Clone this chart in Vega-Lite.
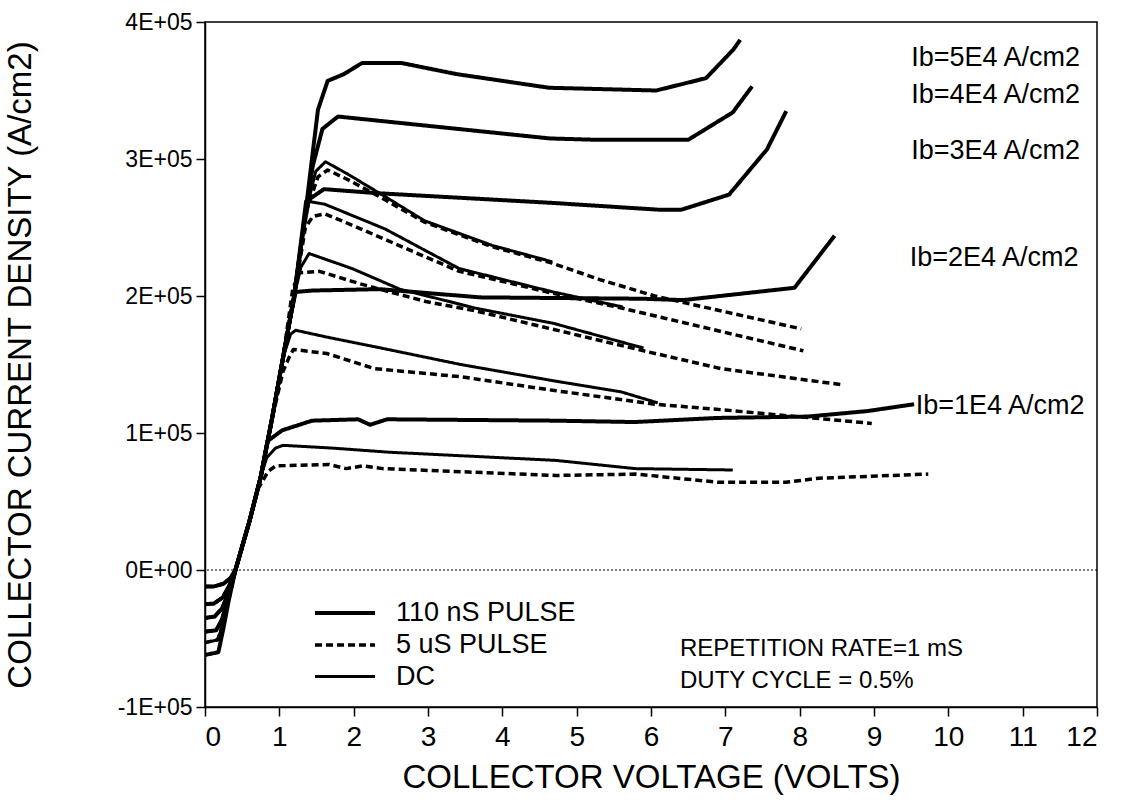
{
  "$schema": "https://vega.github.io/schema/vega-lite/v6.json",
  "width": 892,
  "height": 685,
  "autosize": "none",
  "padding": {"left": 205, "top": 22, "right": 36, "bottom": 100},
  "background": "white",
  "config": {
    "font": "Liberation Sans",
    "view": {"stroke": "black", "strokeWidth": 1.5},
    "axis": {"domainColor": "black", "domainWidth": 1.5, "tickColor": "black", "tickWidth": 1.5, "tickSize": 9, "labelColor": "black", "titleColor": "black", "grid": false, "labelFont": "Liberation Sans", "titleFont": "Liberation Sans", "titleFontWeight": "normal"}
  },
  "datasets": {
    "curves": [
      {"c": "T1", "p": "110 nS PULSE"}, {"c": "T2", "p": "110 nS PULSE"}, {"c": "T3", "p": "110 nS PULSE"}, {"c": "T4", "p": "110 nS PULSE"}, {"c": "T5", "p": "110 nS PULSE"},
      {"c": "S1", "p": "5 uS PULSE"}, {"c": "S2", "p": "5 uS PULSE"}, {"c": "S3", "p": "5 uS PULSE"}, {"c": "S4", "p": "5 uS PULSE"}, {"c": "S5", "p": "5 uS PULSE"},
      {"c": "D1", "p": "DC"}, {"c": "D2", "p": "DC"}, {"c": "D3", "p": "DC"}, {"c": "D4", "p": "DC"}, {"c": "D5", "p": "DC"}
    ],
    "pts": [
      {"c":"T5","v":0,"j":-62000},{"c":"T5","v":0.18,"j":-60000},{"c":"T5","v":0.25,"j":-42000},{"c":"T5","v":0.32,"j":-22000},{"c":"T5","v":0.41,"j":0},
      {"c":"T5","v":0.6,"j":36000},{"c":"T5","v":0.75,"j":68000},{"c":"T5","v":0.9,"j":110000},{"c":"T5","v":1.05,"j":155000},{"c":"T5","v":1.2,"j":200000},{"c":"T5","v":1.35,"j":260000},{"c":"T5","v":1.45,"j":305000},{"c":"T5","v":1.52,"j":336000},{"c":"T5","v":1.65,"j":357000},{"c":"T5","v":1.87,"j":362000},{"c":"T5","v":2.11,"j":370000},{"c":"T5","v":2.65,"j":370000},{"c":"T5","v":3.38,"j":362000},{"c":"T5","v":4.63,"j":352000},{"c":"T5","v":6.07,"j":350000},{"c":"T5","v":6.74,"j":359000},{"c":"T5","v":7.11,"j":380000},{"c":"T5","v":7.2,"j":387000},

      {"c":"T4","v":0,"j":-45000},{"c":"T4","v":0.15,"j":-44000},{"c":"T4","v":0.23,"j":-36000},{"c":"T4","v":0.31,"j":-20000},{"c":"T4","v":0.41,"j":0},
      {"c":"T4","v":0.6,"j":36000},{"c":"T4","v":0.75,"j":68000},{"c":"T4","v":0.9,"j":110000},{"c":"T4","v":1.05,"j":155000},{"c":"T4","v":1.2,"j":200000},{"c":"T4","v":1.35,"j":260000},{"c":"T4","v":1.45,"j":295000},{"c":"T4","v":1.58,"j":322000},{"c":"T4","v":1.79,"j":331000},{"c":"T4","v":4.64,"j":315000},{"c":"T4","v":5.28,"j":314000},{"c":"T4","v":6.5,"j":314000},{"c":"T4","v":7.1,"j":334000},{"c":"T4","v":7.36,"j":353000},

      {"c":"T3","v":0,"j":-35000},{"c":"T3","v":0.13,"j":-34000},{"c":"T3","v":0.23,"j":-28000},{"c":"T3","v":0.32,"j":-16000},{"c":"T3","v":0.41,"j":0},
      {"c":"T3","v":0.6,"j":36000},{"c":"T3","v":0.75,"j":68000},{"c":"T3","v":0.9,"j":110000},{"c":"T3","v":1.05,"j":155000},{"c":"T3","v":1.2,"j":200000},{"c":"T3","v":1.36,"j":269000},{"c":"T3","v":1.6,"j":278000},{"c":"T3","v":2.33,"j":275000},{"c":"T3","v":4.66,"j":268000},{"c":"T3","v":6.1,"j":263000},{"c":"T3","v":6.41,"j":263000},{"c":"T3","v":7.05,"j":274000},{"c":"T3","v":7.56,"j":307000},{"c":"T3","v":7.82,"j":335000},

      {"c":"T2","v":0,"j":-25000},{"c":"T2","v":0.12,"j":-24500},{"c":"T2","v":0.24,"j":-20000},{"c":"T2","v":0.33,"j":-11000},{"c":"T2","v":0.41,"j":0},
      {"c":"T2","v":0.6,"j":36000},{"c":"T2","v":0.75,"j":68000},{"c":"T2","v":0.9,"j":110000},{"c":"T2","v":1.05,"j":155000},{"c":"T2","v":1.15,"j":185000},{"c":"T2","v":1.22,"j":203000},{"c":"T2","v":1.45,"j":204000},{"c":"T2","v":2.35,"j":205000},{"c":"T2","v":3.7,"j":199000},{"c":"T2","v":5.89,"j":198000},{"c":"T2","v":6.43,"j":197000},{"c":"T2","v":7.93,"j":206000},{"c":"T2","v":8.47,"j":244000},

      {"c":"T1","v":0,"j":-12000},{"c":"T1","v":0.12,"j":-12000},{"c":"T1","v":0.25,"j":-10000},{"c":"T1","v":0.34,"j":-6000},{"c":"T1","v":0.41,"j":0},
      {"c":"T1","v":0.6,"j":36000},{"c":"T1","v":0.75,"j":68000},{"c":"T1","v":0.84,"j":94000},{"c":"T1","v":1.04,"j":102000},{"c":"T1","v":1.44,"j":109000},{"c":"T1","v":2.06,"j":110000},{"c":"T1","v":2.22,"j":106000},{"c":"T1","v":2.45,"j":110000},{"c":"T1","v":4.71,"j":109000},{"c":"T1","v":5.78,"j":108000},{"c":"T1","v":6.9,"j":111000},{"c":"T1","v":8.11,"j":112000},{"c":"T1","v":8.91,"j":116000},{"c":"T1","v":9.54,"j":121000},

      {"c":"D5","v":0,"j":-53000},{"c":"D5","v":0.17,"j":-51000},{"c":"D5","v":0.24,"j":-40000},{"c":"D5","v":0.32,"j":-21000},{"c":"D5","v":0.41,"j":0},
      {"c":"D5","v":0.6,"j":36000},{"c":"D5","v":0.75,"j":68000},{"c":"D5","v":0.9,"j":110000},{"c":"D5","v":1.05,"j":155000},{"c":"D5","v":1.2,"j":200000},{"c":"D5","v":1.35,"j":260000},{"c":"D5","v":1.49,"j":291000},{"c":"D5","v":1.62,"j":298000},{"c":"D5","v":1.92,"j":289000},{"c":"D5","v":2.47,"j":271000},{"c":"D5","v":2.95,"j":255000},{"c":"D5","v":3.86,"j":237000},{"c":"D5","v":4.67,"j":225000},

      {"c":"S5","v":0,"j":-53000},{"c":"S5","v":0.17,"j":-51000},{"c":"S5","v":0.24,"j":-40000},{"c":"S5","v":0.32,"j":-21000},{"c":"S5","v":0.41,"j":0},
      {"c":"S5","v":0.6,"j":36000},{"c":"S5","v":0.75,"j":68000},{"c":"S5","v":0.9,"j":110000},{"c":"S5","v":1.05,"j":155000},{"c":"S5","v":1.2,"j":200000},{"c":"S5","v":1.35,"j":260000},{"c":"S5","v":1.52,"j":287000},{"c":"S5","v":1.65,"j":292000},{"c":"S5","v":1.92,"j":285000},{"c":"S5","v":2.33,"j":273000},{"c":"S5","v":2.95,"j":254000},{"c":"S5","v":3.86,"j":236000},{"c":"S5","v":4.67,"j":224000},{"c":"S5","v":5.31,"j":212000},{"c":"S5","v":6.05,"j":200000},{"c":"S5","v":8.02,"j":176000},

      {"c":"D4","v":0,"j":-45000},{"c":"D4","v":0.15,"j":-44000},{"c":"D4","v":0.23,"j":-36000},{"c":"D4","v":0.31,"j":-20000},{"c":"D4","v":0.41,"j":0},
      {"c":"D4","v":0.6,"j":36000},{"c":"D4","v":0.75,"j":68000},{"c":"D4","v":0.9,"j":110000},{"c":"D4","v":1.05,"j":155000},{"c":"D4","v":1.2,"j":200000},{"c":"D4","v":1.32,"j":245000},{"c":"D4","v":1.4,"j":269000},{"c":"D4","v":1.61,"j":267000},{"c":"D4","v":2.42,"j":249000},{"c":"D4","v":3.42,"j":220000},{"c":"D4","v":4.68,"j":203000},{"c":"D4","v":5.62,"j":192000},

      {"c":"S4","v":0,"j":-45000},{"c":"S4","v":0.15,"j":-44000},{"c":"S4","v":0.23,"j":-36000},{"c":"S4","v":0.31,"j":-20000},{"c":"S4","v":0.41,"j":0},
      {"c":"S4","v":0.6,"j":36000},{"c":"S4","v":0.75,"j":68000},{"c":"S4","v":0.9,"j":110000},{"c":"S4","v":1.05,"j":155000},{"c":"S4","v":1.2,"j":200000},{"c":"S4","v":1.35,"j":250000},{"c":"S4","v":1.45,"j":258000},{"c":"S4","v":1.61,"j":260000},{"c":"S4","v":1.88,"j":254000},{"c":"S4","v":2.69,"j":235000},{"c":"S4","v":3.42,"j":218000},{"c":"S4","v":4.68,"j":202000},{"c":"S4","v":5.62,"j":191000},{"c":"S4","v":8.05,"j":160000},

      {"c":"D3","v":0,"j":-35000},{"c":"D3","v":0.13,"j":-34000},{"c":"D3","v":0.23,"j":-28000},{"c":"D3","v":0.32,"j":-16000},{"c":"D3","v":0.41,"j":0},
      {"c":"D3","v":0.6,"j":36000},{"c":"D3","v":0.75,"j":68000},{"c":"D3","v":0.9,"j":110000},{"c":"D3","v":1.05,"j":155000},{"c":"D3","v":1.2,"j":200000},{"c":"D3","v":1.29,"j":221000},{"c":"D3","v":1.4,"j":231000},{"c":"D3","v":1.98,"j":220000},{"c":"D3","v":2.62,"j":205000},{"c":"D3","v":3.65,"j":191000},{"c":"D3","v":4.69,"j":180000},{"c":"D3","v":5.9,"j":162000},

      {"c":"S3","v":0,"j":-35000},{"c":"S3","v":0.13,"j":-34000},{"c":"S3","v":0.23,"j":-28000},{"c":"S3","v":0.32,"j":-16000},{"c":"S3","v":0.41,"j":0},
      {"c":"S3","v":0.6,"j":36000},{"c":"S3","v":0.75,"j":68000},{"c":"S3","v":0.9,"j":110000},{"c":"S3","v":1.05,"j":155000},{"c":"S3","v":1.18,"j":205000},{"c":"S3","v":1.27,"j":217000},{"c":"S3","v":1.54,"j":218000},{"c":"S3","v":2.08,"j":209000},{"c":"S3","v":2.35,"j":205000},{"c":"S3","v":2.97,"j":196000},{"c":"S3","v":3.65,"j":189000},{"c":"S3","v":5.9,"j":160000},{"c":"S3","v":6.94,"j":147000},{"c":"S3","v":8.6,"j":135000},

      {"c":"D2","v":0,"j":-25000},{"c":"D2","v":0.12,"j":-24500},{"c":"D2","v":0.24,"j":-20000},{"c":"D2","v":0.33,"j":-11000},{"c":"D2","v":0.41,"j":0},
      {"c":"D2","v":0.6,"j":36000},{"c":"D2","v":0.75,"j":68000},{"c":"D2","v":0.9,"j":110000},{"c":"D2","v":1.05,"j":155000},{"c":"D2","v":1.15,"j":172000},{"c":"D2","v":1.22,"j":175000},{"c":"D2","v":1.64,"j":170000},{"c":"D2","v":2.37,"j":162000},{"c":"D2","v":3.44,"j":150000},{"c":"D2","v":4.7,"j":138000},{"c":"D2","v":5.6,"j":130000},{"c":"D2","v":6.09,"j":122000},

      {"c":"S2","v":0,"j":-25000},{"c":"S2","v":0.12,"j":-24500},{"c":"S2","v":0.24,"j":-20000},{"c":"S2","v":0.33,"j":-11000},{"c":"S2","v":0.41,"j":0},
      {"c":"S2","v":0.6,"j":36000},{"c":"S2","v":0.75,"j":68000},{"c":"S2","v":0.9,"j":110000},{"c":"S2","v":1.05,"j":145000},{"c":"S2","v":1.13,"j":155000},{"c":"S2","v":1.19,"j":161000},{"c":"S2","v":1.64,"j":158000},{"c":"S2","v":2.28,"j":147000},{"c":"S2","v":3.45,"j":141000},{"c":"S2","v":4.7,"j":131000},{"c":"S2","v":6.05,"j":121000},{"c":"S2","v":6.95,"j":117000},{"c":"S2","v":8.97,"j":107000},

      {"c":"D1","v":0,"j":-12000},{"c":"D1","v":0.12,"j":-12000},{"c":"D1","v":0.25,"j":-10000},{"c":"D1","v":0.34,"j":-6000},{"c":"D1","v":0.41,"j":0},
      {"c":"D1","v":0.6,"j":36000},{"c":"D1","v":0.75,"j":68000},{"c":"D1","v":0.83,"j":82000},{"c":"D1","v":0.95,"j":89000},{"c":"D1","v":1.05,"j":91000},{"c":"D1","v":1.71,"j":89000},{"c":"D1","v":2.47,"j":86000},{"c":"D1","v":4.72,"j":80000},{"c":"D1","v":5.79,"j":74000},{"c":"D1","v":7.1,"j":73000},

      {"c":"S1","v":0,"j":-12000},{"c":"S1","v":0.12,"j":-12000},{"c":"S1","v":0.25,"j":-10000},{"c":"S1","v":0.34,"j":-6000},{"c":"S1","v":0.41,"j":0},
      {"c":"S1","v":0.6,"j":36000},{"c":"S1","v":0.72,"j":60000},{"c":"S1","v":0.85,"j":72000},{"c":"S1","v":0.95,"j":76000},{"c":"S1","v":1.67,"j":77000},{"c":"S1","v":1.9,"j":74000},{"c":"S1","v":2.12,"j":76000},{"c":"S1","v":2.39,"j":74000},{"c":"S1","v":4.72,"j":69000},{"c":"S1","v":5.8,"j":70000},{"c":"S1","v":6.91,"j":64000},{"c":"S1","v":7.81,"j":64000},{"c":"S1","v":8.26,"j":67000},{"c":"S1","v":9.73,"j":70000}
    ],
    "notes": [
      {"v": 9.5, "j": 374000, "t": "Ib=5E4 A/cm2", "k": "ib"},
      {"v": 9.5, "j": 347000, "t": "Ib=4E4 A/cm2", "k": "ib"},
      {"v": 9.5, "j": 306000, "t": "Ib=3E4 A/cm2", "k": "ib"},
      {"v": 9.48, "j": 228000, "t": "Ib=2E4 A/cm2", "k": "ib"},
      {"v": 9.56, "j": 120000, "t": "Ib=1E4 A/cm2", "k": "ib"},
      {"v": 6.39, "j": -58000, "t": "REPETITION RATE=1 mS", "k": "cond"},
      {"v": 6.39, "j": -81000, "t": "DUTY CYCLE = 0.5%", "k": "cond"}
    ]
  },
  "layer": [
    {
      "data": {"values": [{"y": 0}]},
      "mark": {"type": "rule", "color": "black", "strokeWidth": 1, "strokeDash": [2, 2]},
      "encoding": {"y": {"field": "y", "type": "quantitative", "scale": {"domain": [-100000, 400000]}}}
    },
    {
      "data": {"name": "pts"},
      "transform": [{"lookup": "c", "from": {"data": {"name": "curves"}, "key": "c", "fields": ["p"]}}],
      "mark": {"type": "line", "color": "black", "strokeJoin": "round", "strokeCap": "butt"},
      "encoding": {
        "x": {"field": "v", "type": "quantitative", "scale": {"domain": [0, 12], "nice": false},
              "axis": {"title": "COLLECTOR VOLTAGE (VOLTS)", "values": [0,1,2,3,4,5,6,7,8,9,10,11,12], "format": "d", "labelOverlap": false, "labelFontSize": 28, "titleFontSize": 33, "labelPadding": 7, "titlePadding": 10}},
        "y": {"field": "j", "type": "quantitative", "scale": {"domain": [-100000, 400000], "nice": false},
              "axis": {"title": "COLLECTOR CURRENT DENSITY (A/cm2)", "values": [-100000, 0, 100000, 200000, 300000, 400000],
                       "labelExpr": "datum.value == 0 ? '0E+00' : (datum.value < 0 ? '-' : '') + abs(datum.value / 100000) + 'E+05'",
                       "labelOverlap": false, "labelFontSize": 23, "titleFontSize": 33, "labelPadding": 4, "titlePadding": 80}},
        "detail": {"field": "c"},
        "strokeDash": {"field": "p", "type": "ordinal",
                       "scale": {"domain": ["110 nS PULSE", "5 uS PULSE", "DC"], "range": [[1, 0], [7, 4], [1, 0]]},
                       "legend": {"orient": "none", "legendX": 123, "legendY": 574, "title": null, "symbolType": "M-2,0H2", "symbolSize": 900, "symbolStrokeColor": "black", "symbolFillColor": "transparent", "labelFontSize": 27, "labelLimit": 400, "labelFont": "Liberation Sans", "labelColor": "black", "rowPadding": 2, "labelOffset": 34, "padding": 0}},
        "strokeWidth": {"field": "p", "type": "ordinal",
                        "scale": {"domain": ["110 nS PULSE", "5 uS PULSE", "DC"], "range": [4, 3, 1.5]},
                        "legend": {"orient": "none", "legendX": 123, "legendY": 574, "title": null, "symbolType": "M-2,0H2", "symbolSize": 900, "symbolStrokeColor": "black", "symbolFillColor": "transparent", "labelFontSize": 27, "labelLimit": 400, "labelFont": "Liberation Sans", "labelColor": "black", "rowPadding": 2, "labelOffset": 34, "padding": 0}}
      }
    },
    {
      "data": {"name": "notes"},
      "mark": {"type": "text", "align": "left", "baseline": "middle", "color": "black", "font": "Liberation Sans"},
      "encoding": {
        "x": {"field": "v", "type": "quantitative"},
        "y": {"field": "j", "type": "quantitative"},
        "text": {"field": "t"},
        "size": {"field": "k", "type": "nominal", "scale": {"domain": ["ib", "cond"], "range": [27, 24]}, "legend": null}
      }
    }
  ]
}
